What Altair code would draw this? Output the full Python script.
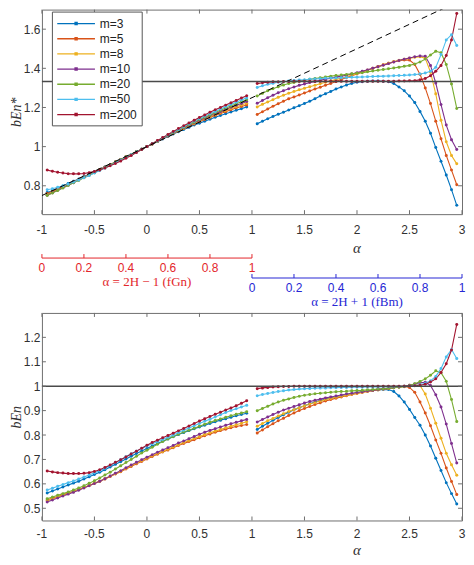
import altair as alt
import pandas as pd

M_LABELS = ["m=3", "m=5", "m=8", "m=10", "m=20", "m=50", "m=200"]
COLORS = ["#0072BD", "#D95319", "#EDB120", "#7E2F8E", "#77AC30", "#4DBEEE", "#A2142F"]

ALPHA_L = [-0.95, -0.9, -0.85, -0.8, -0.75, -0.7, -0.65, -0.6, -0.55, -0.5, -0.45, -0.4, -0.35,
           -0.3, -0.25, -0.2, -0.15, -0.1, -0.05, 0.0, 0.05, 0.1, 0.15, 0.2, 0.25, 0.3, 0.35,
           0.4, 0.45, 0.5, 0.55, 0.6, 0.65, 0.7, 0.75, 0.8, 0.85, 0.9, 0.95]
ALPHA_R = [1.05, 1.1, 1.15, 1.2, 1.25, 1.3, 1.35, 1.4, 1.45, 1.5, 1.55, 1.6, 1.65, 1.7, 1.75,
           1.8, 1.85, 1.9, 1.95, 2.0, 2.05, 2.1, 2.15, 2.2, 2.25, 2.3, 2.35, 2.4, 2.45, 2.5,
           2.55, 2.6, 2.65, 2.7, 2.75, 2.8, 2.85, 2.9, 2.95]

# upper panel (bEn*)
TOP_L = {
    "m=3": [0.765, 0.775, 0.787, 0.799, 0.811, 0.823, 0.835, 0.847, 0.859, 0.871, 0.883, 0.896, 0.908, 0.921, 0.934, 0.947, 0.960, 0.973, 0.987, 1.000, 1.013, 1.026, 1.039, 1.052, 1.064, 1.076, 1.088, 1.099, 1.110, 1.120, 1.130, 1.140, 1.150, 1.159, 1.168, 1.177, 1.186, 1.194, 1.202],
    "m=5": [0.760, 0.771, 0.783, 0.795, 0.807, 0.820, 0.832, 0.845, 0.857, 0.870, 0.882, 0.895, 0.908, 0.921, 0.934, 0.947, 0.960, 0.973, 0.987, 1.000, 1.013, 1.027, 1.040, 1.054, 1.067, 1.080, 1.092, 1.104, 1.116, 1.127, 1.138, 1.149, 1.159, 1.169, 1.178, 1.188, 1.197, 1.205, 1.213],
    "m=8": [0.755, 0.767, 0.779, 0.792, 0.804, 0.817, 0.830, 0.843, 0.856, 0.869, 0.882, 0.895, 0.908, 0.921, 0.934, 0.947, 0.960, 0.974, 0.987, 1.000, 1.014, 1.027, 1.041, 1.055, 1.068, 1.081, 1.094, 1.107, 1.119, 1.131, 1.142, 1.153, 1.164, 1.175, 1.185, 1.195, 1.204, 1.213, 1.222],
    "m=10": [0.752, 0.764, 0.777, 0.790, 0.803, 0.816, 0.829, 0.842, 0.855, 0.868, 0.881, 0.894, 0.907, 0.920, 0.934, 0.947, 0.960, 0.974, 0.987, 1.000, 1.014, 1.028, 1.042, 1.056, 1.070, 1.083, 1.096, 1.109, 1.122, 1.134, 1.146, 1.158, 1.169, 1.180, 1.191, 1.201, 1.211, 1.220, 1.230],
    "m=20": [0.750, 0.763, 0.776, 0.789, 0.802, 0.815, 0.828, 0.841, 0.854, 0.867, 0.880, 0.893, 0.907, 0.920, 0.933, 0.947, 0.960, 0.974, 0.987, 1.000, 1.014, 1.028, 1.043, 1.057, 1.071, 1.085, 1.099, 1.112, 1.125, 1.138, 1.150, 1.162, 1.174, 1.186, 1.197, 1.208, 1.219, 1.229, 1.240],
    "m=50": [0.780, 0.785, 0.792, 0.800, 0.809, 0.819, 0.830, 0.841, 0.853, 0.865, 0.878, 0.891, 0.904, 0.918, 0.931, 0.945, 0.959, 0.973, 0.986, 1.000, 1.015, 1.029, 1.044, 1.058, 1.073, 1.087, 1.101, 1.115, 1.129, 1.142, 1.155, 1.168, 1.180, 1.192, 1.204, 1.216, 1.227, 1.238, 1.249],
    "m=200": [0.880, 0.874, 0.869, 0.865, 0.862, 0.861, 0.861, 0.863, 0.867, 0.873, 0.881, 0.891, 0.902, 0.914, 0.927, 0.941, 0.955, 0.970, 0.985, 1.000, 1.015, 1.031, 1.046, 1.062, 1.077, 1.092, 1.107, 1.121, 1.135, 1.149, 1.162, 1.175, 1.188, 1.200, 1.212, 1.224, 1.236, 1.248, 1.260],
}
TOP_R = {
    "m=3": [1.117, 1.130, 1.142, 1.154, 1.165, 1.176, 1.187, 1.198, 1.209, 1.220, 1.232, 1.245, 1.258, 1.270, 1.282, 1.294, 1.305, 1.315, 1.323, 1.329, 1.332, 1.334, 1.335, 1.335, 1.334, 1.331, 1.322, 1.305, 1.285, 1.258, 1.225, 1.180, 1.130, 1.068, 0.995, 0.925, 0.855, 0.780, 0.700],
    "m=5": [1.164, 1.178, 1.192, 1.206, 1.219, 1.232, 1.244, 1.254, 1.264, 1.274, 1.284, 1.294, 1.303, 1.313, 1.323, 1.333, 1.343, 1.353, 1.362, 1.371, 1.381, 1.390, 1.400, 1.409, 1.418, 1.426, 1.433, 1.439, 1.443, 1.442, 1.420, 1.370, 1.300, 1.220, 1.130, 1.040, 0.955, 0.880, 0.805],
    "m=8": [1.203, 1.216, 1.228, 1.240, 1.252, 1.263, 1.273, 1.282, 1.290, 1.298, 1.306, 1.314, 1.321, 1.329, 1.336, 1.343, 1.350, 1.357, 1.365, 1.373, 1.381, 1.390, 1.399, 1.408, 1.417, 1.426, 1.434, 1.441, 1.447, 1.452, 1.456, 1.459, 1.452, 1.380, 1.270, 1.135, 1.025, 0.955, 0.912],
    "m=10": [1.221, 1.236, 1.250, 1.263, 1.275, 1.286, 1.296, 1.305, 1.313, 1.320, 1.327, 1.333, 1.339, 1.345, 1.350, 1.355, 1.360, 1.365, 1.371, 1.378, 1.385, 1.392, 1.400, 1.408, 1.416, 1.424, 1.432, 1.440, 1.447, 1.453, 1.459, 1.463, 1.462, 1.415, 1.325, 1.215, 1.110, 1.035, 0.985],
    "m=20": [1.258, 1.272, 1.285, 1.296, 1.306, 1.315, 1.322, 1.328, 1.334, 1.339, 1.344, 1.348, 1.352, 1.356, 1.360, 1.363, 1.366, 1.369, 1.372, 1.375, 1.378, 1.382, 1.386, 1.390, 1.394, 1.398, 1.402, 1.406, 1.410, 1.415, 1.422, 1.432, 1.447, 1.468, 1.487, 1.480, 1.420, 1.320, 1.195],
    "m=50": [1.302, 1.311, 1.318, 1.324, 1.329, 1.332, 1.335, 1.338, 1.340, 1.342, 1.344, 1.346, 1.347, 1.349, 1.350, 1.351, 1.352, 1.353, 1.354, 1.355, 1.356, 1.357, 1.358, 1.359, 1.360, 1.361, 1.362, 1.363, 1.364, 1.366, 1.368, 1.371, 1.376, 1.385, 1.405, 1.470, 1.545, 1.572, 1.517],
    "m=200": [1.322, 1.326, 1.329, 1.331, 1.332, 1.333, 1.333, 1.334, 1.334, 1.334, 1.334, 1.334, 1.334, 1.334, 1.334, 1.334, 1.334, 1.334, 1.334, 1.334, 1.334, 1.334, 1.334, 1.334, 1.334, 1.334, 1.334, 1.335, 1.335, 1.336, 1.337, 1.341, 1.348, 1.362, 1.385, 1.415, 1.465, 1.545, 1.680],
}
# lower panel (bEn)
BOT_L = {
    "m=3": [0.563, 0.571, 0.579, 0.587, 0.595, 0.603, 0.611, 0.620, 0.629, 0.638, 0.648, 0.658, 0.669, 0.680, 0.691, 0.702, 0.713, 0.724, 0.735, 0.745, 0.755, 0.765, 0.775, 0.784, 0.793, 0.802, 0.810, 0.818, 0.826, 0.833, 0.840, 0.847, 0.854, 0.861, 0.867, 0.873, 0.879, 0.884, 0.889],
    "m=5": [0.534, 0.541, 0.548, 0.555, 0.562, 0.569, 0.577, 0.585, 0.593, 0.602, 0.611, 0.620, 0.630, 0.640, 0.650, 0.661, 0.671, 0.682, 0.692, 0.702, 0.712, 0.721, 0.730, 0.739, 0.748, 0.757, 0.765, 0.773, 0.781, 0.789, 0.797, 0.804, 0.811, 0.818, 0.824, 0.830, 0.835, 0.839, 0.843],
    "m=8": [0.531, 0.538, 0.546, 0.553, 0.561, 0.568, 0.576, 0.584, 0.593, 0.602, 0.611, 0.621, 0.631, 0.641, 0.652, 0.663, 0.674, 0.685, 0.695, 0.705, 0.715, 0.724, 0.733, 0.742, 0.751, 0.760, 0.769, 0.778, 0.786, 0.794, 0.802, 0.809, 0.816, 0.823, 0.830, 0.836, 0.842, 0.848, 0.854],
    "m=10": [0.526, 0.534, 0.542, 0.550, 0.558, 0.566, 0.574, 0.583, 0.592, 0.601, 0.611, 0.621, 0.632, 0.643, 0.654, 0.666, 0.677, 0.688, 0.699, 0.709, 0.719, 0.729, 0.739, 0.748, 0.757, 0.767, 0.776, 0.785, 0.794, 0.803, 0.811, 0.819, 0.826, 0.833, 0.840, 0.846, 0.852, 0.858, 0.864],
    "m=20": [0.539, 0.546, 0.553, 0.560, 0.567, 0.575, 0.583, 0.592, 0.602, 0.613, 0.624, 0.636, 0.648, 0.661, 0.674, 0.687, 0.700, 0.713, 0.726, 0.738, 0.750, 0.762, 0.773, 0.784, 0.794, 0.803, 0.812, 0.820, 0.828, 0.836, 0.844, 0.852, 0.859, 0.866, 0.873, 0.879, 0.885, 0.890, 0.895],
    "m=50": [0.575, 0.582, 0.590, 0.597, 0.605, 0.612, 0.620, 0.628, 0.636, 0.645, 0.654, 0.664, 0.675, 0.687, 0.699, 0.711, 0.723, 0.734, 0.745, 0.755, 0.764, 0.773, 0.782, 0.791, 0.800, 0.810, 0.820, 0.829, 0.838, 0.847, 0.856, 0.865, 0.874, 0.883, 0.892, 0.900, 0.908, 0.915, 0.922],
    "m=200": [0.653, 0.649, 0.646, 0.644, 0.642, 0.642, 0.642, 0.643, 0.646, 0.651, 0.658, 0.667, 0.677, 0.688, 0.699, 0.710, 0.722, 0.734, 0.746, 0.758, 0.769, 0.779, 0.789, 0.798, 0.807, 0.817, 0.827, 0.837, 0.847, 0.857, 0.867, 0.876, 0.885, 0.893, 0.902, 0.911, 0.920, 0.930, 0.940],
}
BOT_R = {
    "m=3": [0.823, 0.836, 0.848, 0.860, 0.872, 0.883, 0.893, 0.903, 0.912, 0.920, 0.928, 0.935, 0.941, 0.947, 0.952, 0.957, 0.961, 0.965, 0.969, 0.973, 0.977, 0.980, 0.983, 0.985, 0.987, 0.986, 0.978, 0.960, 0.935, 0.905, 0.872, 0.840, 0.800, 0.755, 0.705, 0.655, 0.605, 0.560, 0.518],
    "m=5": [0.808, 0.821, 0.834, 0.846, 0.858, 0.869, 0.880, 0.890, 0.900, 0.909, 0.917, 0.925, 0.932, 0.939, 0.945, 0.951, 0.956, 0.961, 0.966, 0.970, 0.974, 0.978, 0.982, 0.985, 0.988, 0.991, 0.994, 0.997, 0.999, 0.995, 0.975, 0.935, 0.890, 0.838, 0.780, 0.725, 0.665, 0.610, 0.556],
    "m=8": [0.836, 0.847, 0.858, 0.868, 0.878, 0.887, 0.896, 0.904, 0.912, 0.920, 0.927, 0.933, 0.939, 0.945, 0.950, 0.955, 0.959, 0.963, 0.967, 0.971, 0.975, 0.979, 0.982, 0.985, 0.988, 0.991, 0.994, 0.997, 1.000, 1.004, 1.007, 1.003, 0.968, 0.910, 0.848, 0.787, 0.725, 0.678, 0.635],
    "m=10": [0.853, 0.864, 0.874, 0.884, 0.893, 0.902, 0.910, 0.917, 0.924, 0.931, 0.937, 0.942, 0.947, 0.952, 0.956, 0.960, 0.964, 0.968, 0.971, 0.974, 0.977, 0.980, 0.983, 0.986, 0.989, 0.992, 0.994, 0.997, 1.000, 1.004, 1.009, 1.014, 1.016, 1.003, 0.965, 0.915, 0.845, 0.765, 0.685],
    "m=20": [0.899, 0.909, 0.918, 0.927, 0.935, 0.942, 0.948, 0.954, 0.959, 0.963, 0.966, 0.969, 0.971, 0.973, 0.975, 0.977, 0.978, 0.979, 0.981, 0.982, 0.983, 0.985, 0.986, 0.988, 0.990, 0.992, 0.994, 0.996, 0.998, 1.003, 1.010, 1.019, 1.030, 1.045, 1.063, 1.055, 1.020, 0.945, 0.855],
    "m=50": [0.961, 0.966, 0.970, 0.974, 0.978, 0.981, 0.984, 0.986, 0.988, 0.990, 0.991, 0.992, 0.993, 0.993, 0.994, 0.994, 0.995, 0.995, 0.996, 0.996, 0.996, 0.997, 0.997, 0.997, 0.998, 0.998, 0.998, 0.999, 1.000, 1.001, 1.003, 1.006, 1.012, 1.022, 1.040, 1.072, 1.120, 1.150, 1.113],
    "m=200": [0.990, 0.993, 0.995, 0.997, 0.998, 0.999, 0.999, 1.000, 1.000, 1.000, 1.000, 1.000, 1.000, 1.000, 1.000, 1.000, 1.000, 1.000, 1.000, 1.000, 1.000, 1.000, 1.000, 1.000, 1.000, 1.000, 1.000, 1.000, 1.000, 1.001, 1.002, 1.004, 1.008, 1.017, 1.030, 1.056, 1.092, 1.148, 1.253],
}

TOP_REF = [1.3333]
BOT_REF = [1.0]
DASH_ALPHA = [-1.0, 3.0]
DASH_VALUE = [0.75, 1.75]
H_TICKS = [0, 0.2, 0.4, 0.6, 0.8, 1]            # Hurst exponent ticks
H_LABELS = ["0", "0.2", "0.4", "0.6", "0.8", "1"]
X_TICKS = [-1, -0.5, 0, 0.5, 1, 1.5, 2, 2.5, 3]
Y_TICKS_TOP = [0.8, 1, 1.2, 1.4, 1.6]
Y_TICKS_BOT = [0.5, 0.6, 0.7, 0.8, 0.9, 1, 1.1, 1.2]
FGN_TITLE = "α = 2H − 1 (fGn)"
FBM_TITLE = "α = 2H + 1 (fBm)"
X_TITLE = "α"
X_TITLE_AT = [2.0]

# ---------------------------------------------------------------- styling
W = 421
H_TOP = 205
H_BOT = 208
TICK = 4
RED_Y = H_TOP + 44
BLUE_Y = H_TOP + 64
FRAME = "#6f6f6f"
TXT = "#303030"
RED = "#e3262b"
BLUE = "#2626d4"
SANS = "Liberation Sans"
SERIF = "Liberation Serif"
LEG_PATH = "M-0.95,0H4.45M1.6,-0.15H1.9V0.15H1.6Z"

for dct in (TOP_L, TOP_R, BOT_L, BOT_R):
    for k, v in dct.items():
        if len(v) != 39:
            raise ValueError(f"bad length {k}: {len(v)}")


def series_frame(left, right):
    rows = []
    for seg, alphas, d in (("L", ALPHA_L, left), ("R", ALPHA_R, right)):
        for m in M_LABELS:
            for a, v in zip(alphas, d[m]):
                rows.append({"alpha": a, "value": v, "m": m, "seg": seg})
    return pd.DataFrame(rows)


XS = alt.Scale(domain=[-1, 3], nice=False, zero=False)
COLOR_SCALE = alt.Scale(domain=M_LABELS, range=COLORS)
dash_df = pd.DataFrame({"a": DASH_ALPHA, "v": DASH_VALUE})
xt_df = pd.DataFrame({"a": X_TICKS, "lab": [str(t) for t in X_TICKS]})


def inward_ticks(yenc, yticks, height):
    yt_df = pd.DataFrame({"v": yticks})
    xa = alt.X("a:Q", scale=XS)
    base = dict(color=FRAME, strokeWidth=1)
    return [
        alt.Chart(xt_df).mark_rule(**base).encode(x=xa, y=alt.value(height), y2=alt.value(height - TICK)),
        alt.Chart(xt_df).mark_rule(**base).encode(x=xa, y=alt.value(0), y2=alt.value(TICK)),
        alt.Chart(yt_df).mark_rule(**base).encode(y=yenc("v"), x=alt.value(0), x2=alt.value(TICK)),
        alt.Chart(yt_df).mark_rule(**base).encode(y=yenc("v"), x=alt.value(W), x2=alt.value(W - TICK)),
    ]


def hurst_axis(shift, color, title, ypos):
    # alpha position of each Hurst tick: alpha = 2H -/+ 1
    df = pd.DataFrame({"h": H_TICKS, "lab": H_LABELS})
    df["a"] = [2 * h + shift for h in H_TICKS]
    xa = alt.X("a:Q", scale=XS)
    span = pd.DataFrame({"a0": [2 * H_TICKS[0] + shift], "a1": [2 * H_TICKS[-1] + shift],
                         "mid": [H_TICKS[0] + H_TICKS[-1] + shift], "t": [title]})
    line = alt.Chart(span).mark_rule(color=color, strokeWidth=1).encode(
        x=alt.X("a0:Q", scale=XS), x2="a1:Q", y=alt.value(ypos))
    ticks = alt.Chart(df).mark_rule(color=color, strokeWidth=1).encode(
        x=xa, y=alt.value(ypos), y2=alt.value(ypos - TICK))
    labels = alt.Chart(df).mark_text(color=color, font=SANS, fontSize=12,
                                     baseline="middle").encode(
        x=xa, y=alt.value(ypos + 10), text="lab:N")
    ttl = alt.Chart(span).mark_text(color=color, font=SERIF, fontSize=13,
                                    baseline="middle").encode(
        x=alt.X("mid:Q", scale=XS), y=alt.value(ypos + 24.5), text="t:N")
    return [line, ticks, labels, ttl]


def panel(left, right, ytitle, ydomain, yticks, height, ref, xlab_y, xtitle_y,
          legend, top_panel):
    ys = alt.Scale(domain=ydomain, nice=False, zero=False)
    y_axis = alt.Axis(values=yticks, format="~g", ticks=False, domain=False, grid=False,
                      labelFont=SANS, labelFontSize=12, labelColor=TXT, labelPadding=2,
                      labelFlush=False, labelOverlap=False, title=ytitle, titleFont=SERIF,
                      titleFontStyle="italic", titleFontWeight="normal",
                      titleFontSize=14, titleColor=TXT, titlePadding=0)

    def yenc(field):
        # every layer carries the same y axis definition so the merged axis is consistent
        return alt.Y(f"{field}:Q", scale=ys, axis=y_axis)

    df = series_frame(left, right)
    series = alt.Chart(df).mark_line(
        strokeWidth=1.1,
        point=alt.OverlayMarkDef(filled=True, size=9, strokeWidth=0),
    ).encode(
        x=alt.X("alpha:Q", scale=XS, axis=None),
        y=yenc("value"),
        color=alt.Color("m:N", scale=COLOR_SCALE, sort=M_LABELS, legend=legend),
        detail="seg:N",
    )
    # x tick labels and x title as text marks placed through the alpha scale
    xlabels = alt.Chart(xt_df).mark_text(color=TXT, font=SANS, fontSize=12,
                                         baseline="middle").encode(
        x=alt.X("a:Q", scale=XS), y=alt.value(height + xlab_y), text="lab:N")
    xtitle = alt.Chart(pd.DataFrame({"a": X_TITLE_AT, "t": [X_TITLE]})).mark_text(
        color=TXT, font=SERIF, fontSize=15, fontStyle="italic", baseline="middle").encode(
        x=alt.X("a:Q", scale=XS), y=alt.value(height + xtitle_y), text="t:N")
    ref_line = alt.Chart(pd.DataFrame({"v": ref})).mark_rule(
        color="#4a4a4a", strokeWidth=1.5).encode(y=yenc("v"))
    layers = [series]
    if top_panel:
        dashed = alt.Chart(dash_df).mark_line(color="black", strokeDash=[6, 4],
                                              strokeWidth=1, clip=True).encode(
            x=alt.X("a:Q", scale=XS), y=yenc("v"))
        layers.append(dashed)
        layers += hurst_axis(-1, RED, FGN_TITLE, RED_Y)
        layers += hurst_axis(1, BLUE, FBM_TITLE, BLUE_Y)
    layers.append(ref_line)
    layers += inward_ticks(yenc, yticks, height)
    layers += [xlabels, xtitle]
    return alt.layer(*layers).properties(width=W, height=height)


legend = alt.Legend(title=None, orient="none", legendX=10, legendY=2,
                    symbolType=LEG_PATH, symbolSize=196, symbolStrokeWidth=1.3,
                    labelFont=SANS, labelFontSize=12, labelColor="#222222",
                    labelOffset=28, rowPadding=1.2, padding=4,
                    strokeColor="#555555", fillColor="#ffffff")

top = panel(TOP_L, TOP_R, "bEn*", [0.655, 1.70], Y_TICKS_TOP, H_TOP, TOP_REF,
            16, 34, legend, True)
bottom = panel(BOT_L, BOT_R, "bEn", [0.45, 1.30], Y_TICKS_BOT, H_BOT, BOT_REF,
               14, 30, None, False)

chart = alt.vconcat(top, bottom, spacing=2).resolve_scale(color="independent").configure_view(
    stroke=FRAME, strokeWidth=1).configure_axisX(disable=True).configure_axisY(
    labelOverlap=False).properties(background="white", padding=0)

chart.save("out.html", embed_options={"renderer": "svg", "actions": False})
